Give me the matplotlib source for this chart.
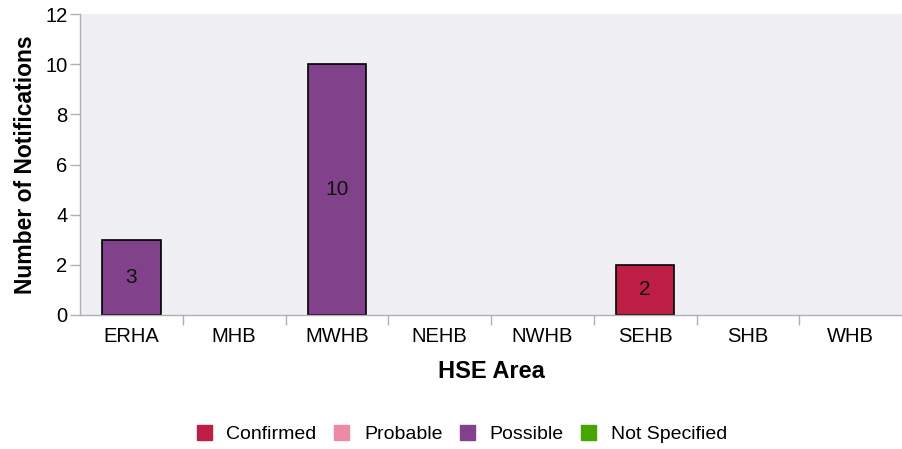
import matplotlib
matplotlib.use("Agg")
import matplotlib.pyplot as plt
import numpy as np

plt.rcParams['font.family'] = ['Liberation Sans', 'DejaVu Sans']

areas = ["ERHA", "MHB", "MWHB", "NEHB", "NWHB", "SEHB", "SHB", "WHB"]
series_names = ["Confirmed", "Probable", "Possible", "Not Specified"]
confirmed = [0, 0, 0, 0, 0, 2, 0, 0]
probable = [0, 0, 0, 0, 0, 0, 0, 0]
possible = [3, 0, 10, 0, 0, 0, 0, 0]
not_specified = [0, 0, 0, 0, 0, 0, 0, 0]
colors = ["#bc1e46", "#ee8aa3", "#82418b", "#48a400"]
yticks = [0, 2, 4, 6, 8, 10, 12]

fig = plt.figure(figsize=(9.02, 4.49), dpi=100)
ax = fig.add_axes([80/902, (449-315)/449, 822/902, 301/449])
ax.set_facecolor("#efeff4")

x = np.arange(len(areas))
bottom = np.zeros(len(areas))
handles = []
for name, vals, col in zip(series_names, [confirmed, probable, possible, not_specified], colors):
    v = np.array(vals, dtype=float)
    mask = v > 0
    ax.bar(x[mask], v[mask], bottom=bottom[mask], width=0.57, color=col,
           edgecolor="black", linewidth=1.2, label=name)
    for xi, vi, bi in zip(x[mask], v[mask], bottom[mask]):
        ax.text(xi, bi + vi/2, f"{int(vi)}", ha="center", va="center", fontsize=15, color="#111111")
    handles.append(plt.Rectangle((0, 0), 1, 1, color=col))
    bottom += v

ax.set_xlim(-0.5, len(areas) - 0.5)
ax.set_ylim(0, 12)
ax.set_yticks(yticks)
ax.set_xticks(x)
ax.set_xticklabels(areas)
ax.set_xticks(np.arange(len(areas) - 1) + 0.5, minor=True)
ax.tick_params(axis='x', which='major', length=0, labelsize=14.5, pad=9)
ax.tick_params(axis='x', which='minor', length=7, color="#b0b0b0", width=1)
ax.tick_params(axis='y', length=7, color="#b0b0b0", width=1, labelsize=14.5, pad=2)
for s in ["top", "right"]:
    ax.spines[s].set_visible(False)
for s in ["left", "bottom"]:
    ax.spines[s].set_color("#b0b0b0")
    ax.spines[s].set_linewidth(1)

ax.set_xlabel("HSE Area", fontsize=17, fontweight="bold", labelpad=10)
ax.set_ylabel("Number of Notifications", fontsize=16.5, fontweight="bold", labelpad=6)

fig.legend(handles, series_names, loc="center", bbox_to_anchor=(462/902, 1 - 434/449), ncol=4,
           frameon=False, fontsize=14, handlelength=0.78, handleheight=0.78, handletextpad=0.75,
           columnspacing=0.9)

fig.savefig("out.png", dpi=100)
